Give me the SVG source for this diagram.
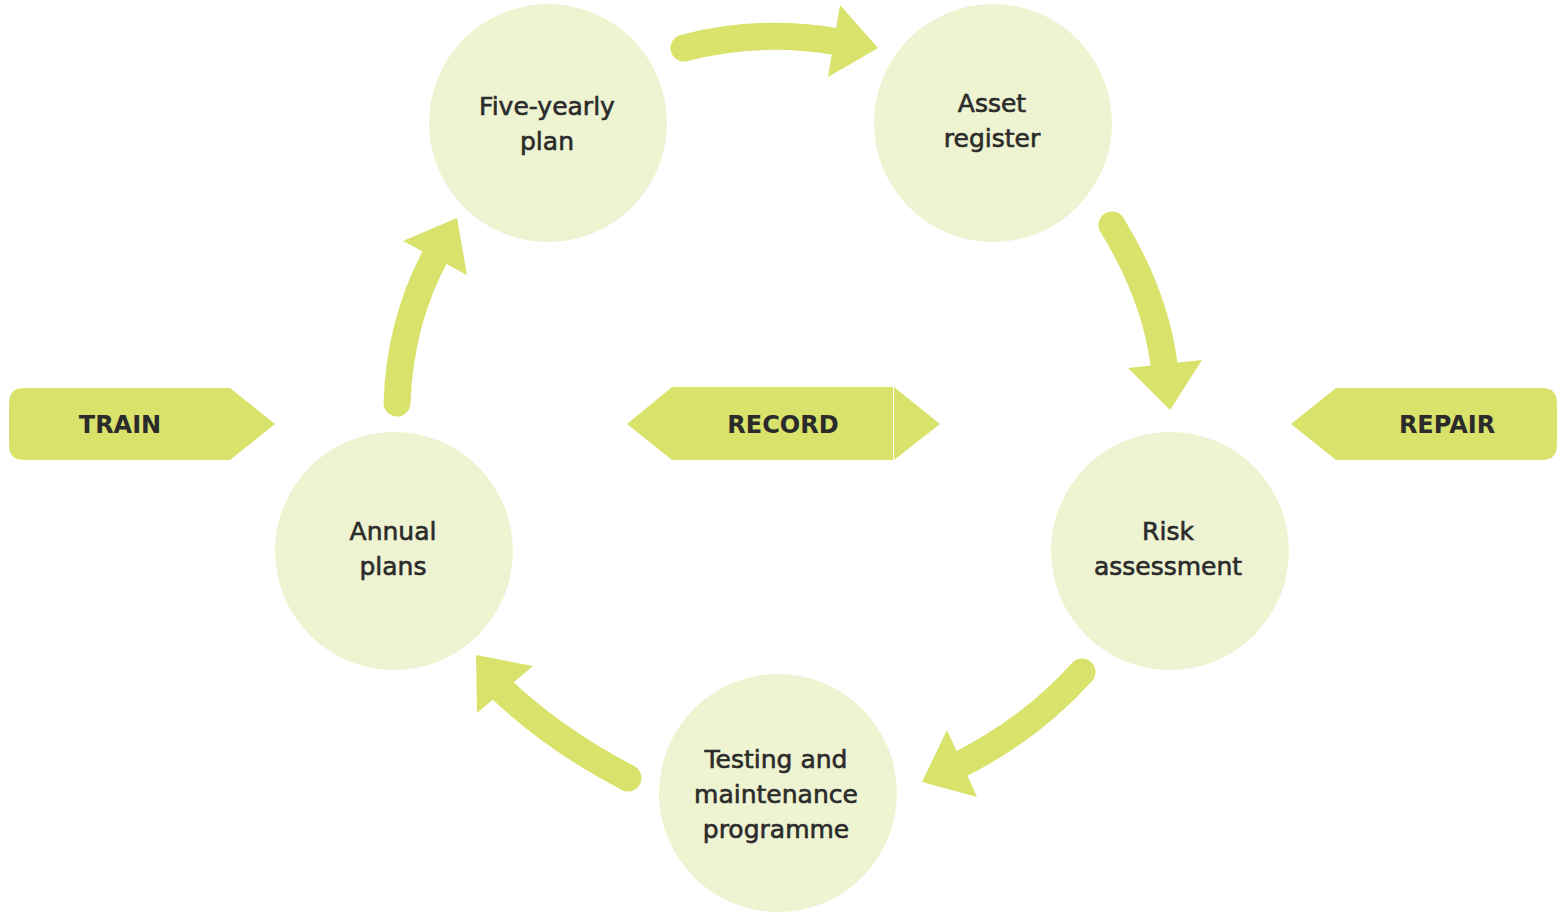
<svg xmlns="http://www.w3.org/2000/svg" width="1568" height="912" viewBox="0 0 1568 912">
<style>
.node{fill:#eef3d2}
.lbl{font-family:"DejaVu Sans","Liberation Sans",sans-serif;font-size:25px;fill:#2b2b2b;stroke:#2b2b2b;stroke-width:0.6;text-anchor:middle}
.ban{fill:#d9e26b}
.btxt{font-family:"DejaVu Sans","Liberation Sans",sans-serif;font-size:24px;font-weight:bold;fill:#2b2b2b;text-anchor:middle}
.body{fill:none;stroke:#d9e26b;stroke-width:27;stroke-linecap:round}
.head{fill:#d9e26b}
</style>
<rect width="1568" height="912" fill="#ffffff"/>
<g id="connectors">
<path class="body" d="M684,48 Q760,28 838,42"/>
<polygon class="head" points="840,5 878,48 828,77"/>
<path class="body" d="M1112,225 Q1155,295 1164,364"/>
<polygon class="head" points="1128,368 1202,360 1170,410"/>
<path class="body" d="M1082,672 Q1030,730 955,767"/>
<polygon class="head" points="947,730 922,782 977,797"/>
<path class="body" d="M628,778 Q555,740 500,688"/>
<polygon class="head" points="476,655 533,666 477,713"/>
<path class="body" d="M397,403 Q400,320 437,253"/>
<polygon class="head" points="403,241 457,218 467,275"/>
</g>
<g id="five-yearly">
<circle class="node" cx="548" cy="123" r="119"/>
<text class="lbl" x="547" y="115">Five-yearly</text>
<text class="lbl" x="547" y="150">plan</text>
</g>
<g id="asset-register">
<circle class="node" cx="993" cy="123" r="119"/>
<text class="lbl" x="992" y="112">Asset</text>
<text class="lbl" x="992" y="147">register</text>
</g>
<g id="risk-assessment">
<circle class="node" cx="1170" cy="551" r="119"/>
<text class="lbl" x="1168" y="540">Risk</text>
<text class="lbl" x="1168" y="575">assessment</text>
</g>
<g id="testing">
<circle class="node" cx="778" cy="793" r="119"/>
<text class="lbl" x="776" y="768">Testing and</text>
<text class="lbl" x="776" y="803">maintenance</text>
<text class="lbl" x="776" y="838">programme</text>
</g>
<g id="annual-plans">
<circle class="node" cx="394" cy="551" r="119"/>
<text class="lbl" x="393" y="540">Annual</text>
<text class="lbl" x="393" y="575">plans</text>
</g>
<g id="train">
<path class="ban" d="M24,388 H230 L275,424 L230,460 H24 Q9,460 9,445 V403 Q9,388 24,388 Z"/>
<text class="btxt" x="120" y="433">TRAIN</text>
</g>
<g id="record">
<polygon class="ban" points="627,424 672,387 893,387 893,460 672,460"/>
<polygon class="ban" points="894,387 940,424 894,460"/>
<text class="btxt" x="783" y="433">RECORD</text>
</g>
<g id="repair">
<path class="ban" d="M1291,424 L1336,388 H1542 Q1557,388 1557,403 V445 Q1557,460 1542,460 H1336 Z"/>
<text class="btxt" x="1447" y="433">REPAIR</text>
</g>
</svg>
